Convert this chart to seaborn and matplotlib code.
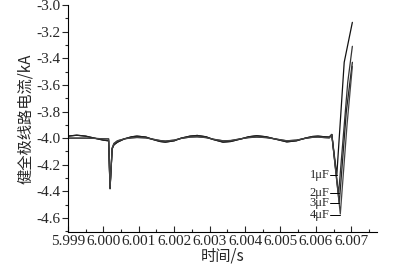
import numpy as np
import pandas as pd
import matplotlib
matplotlib.use("Agg")
import matplotlib.pyplot as plt
from matplotlib.ticker import MultipleLocator, FormatStrFormatter
import seaborn as sns

# shared oscillating part (time in s, current in kA)
t_common = [5.99900, 5.99925, 5.99950, 5.99975, 6.00000, 6.00015, 6.00019, 6.00025,
            6.00030, 6.00040, 6.00060, 6.00080, 6.00095, 6.00120, 6.00140, 6.00160,
            6.00175, 6.00200, 6.00220, 6.00245, 6.00265, 6.00290, 6.00310, 6.00338,
            6.00360, 6.00390, 6.00410, 6.00433, 6.00460, 6.00490, 6.00518, 6.00545,
            6.00570, 6.00590, 6.00606, 6.00625, 6.00638, 6.00645]
i_upper = [-3.985, -3.978, -3.985, -4.000, -4.015, -4.020, -4.380, -4.080,
           -4.050, -4.030, -4.005, -3.990, -3.985, -3.992, -4.010, -4.025,
           -4.030, -4.020, -4.000, -3.985, -3.980, -3.990, -4.010, -4.030,
           -4.025, -4.005, -3.990, -3.982, -3.990, -4.010, -4.028, -4.020,
           -4.000, -3.988, -3.985, -3.990, -3.992, -3.972]
i_lower = [-4.000, -4.000, -4.000, -4.002, -4.005, -4.006, -4.370, -4.075,
           -4.040, -4.020, -4.005, -3.998, -3.995, -3.998, -4.008, -4.018,
           -4.022, -4.015, -4.002, -3.992, -3.990, -3.996, -4.008, -4.020,
           -4.018, -4.004, -3.996, -3.992, -3.996, -4.008, -4.020, -4.015,
           -4.002, -3.994, -3.992, -3.996, -3.998, -3.975]

# fault segments after the shared part, one per capacitance
caps = ["1\u03bcF", "2\u03bcF", "3\u03bcF", "4\u03bcF"]
t_end = {
    "1\u03bcF": [6.00659, 6.00680, 6.00703],
    "2\u03bcF": [6.00664, 6.00690, 6.00703],
    "3\u03bcF": [6.00666, 6.00686, 6.00703],
    "4\u03bcF": [6.00669, 6.00688, 6.00703],
}
i_end = {
    "1\u03bcF": [-4.28, -3.43, -3.13],
    "2\u03bcF": [-4.42, -3.58, -3.31],
    "3\u03bcF": [-4.49, -3.80, -3.43],
    "4\u03bcF": [-4.57, -3.90, -3.46],
}
base_of = {"1\u03bcF": i_upper, "2\u03bcF": i_lower, "3\u03bcF": i_upper, "4\u03bcF": i_lower}

rows = []
for c in caps:
    for t, v in zip(t_common, base_of[c]):
        rows.append((c, t, v))
    for t, v in zip(t_end[c], i_end[c]):
        rows.append((c, t, v))
df = pd.DataFrame(rows, columns=["cap", "t", "i"])

sns.set_style("ticks")
plt.rcParams["font.family"] = ["Liberation Serif", "Noto Sans CJK SC"]
plt.rcParams["axes.unicode_minus"] = True

fig = plt.figure(figsize=(3.97, 2.66), dpi=100)
ax = fig.add_axes([0.171, 0.128, 0.779, 0.853])

palette = {"1\u03bcF": "#111111", "2\u03bcF": "#333333", "3\u03bcF": "#222222", "4\u03bcF": "#444444"}
sns.lineplot(data=df, x="t", y="i", hue="cap", palette=palette, legend=False,
             sort=False, estimator=None, linewidth=0.9, ax=ax)

ax.set_xlim(5.999, 6.00773)
ax.set_ylim(-4.705, -3.0)
ax.xaxis.set_major_locator(MultipleLocator(0.001))
ax.xaxis.set_minor_locator(MultipleLocator(0.0005))
ax.xaxis.set_major_formatter(FormatStrFormatter("%.3f"))
ax.yaxis.set_major_locator(MultipleLocator(0.2))
ax.yaxis.set_minor_locator(MultipleLocator(0.1))
ax.yaxis.set_major_formatter(FormatStrFormatter("%.1f"))
ax.tick_params(axis="x", which="major", direction="in", length=4, width=0.8, labelsize=11, pad=2)
ax.tick_params(axis="x", which="minor", direction="in", length=2, width=0.8)
ax.tick_params(axis="y", which="major", direction="out", length=4, width=0.8, labelsize=11, pad=1)
ax.tick_params(axis="y", which="minor", direction="out", length=2, width=0.8)
for s in ["top", "right"]:
    ax.spines[s].set_visible(False)
for s in ["left", "bottom"]:
    ax.spines[s].set_linewidth(0.8)
    ax.spines[s].set_color("black")

ax.set_xlabel("时间/s", fontsize=11, family=["Noto Sans CJK SC", "Liberation Serif"], labelpad=0)
ax.set_ylabel("健全极线路电流/kA", fontsize=11, family=["Noto Sans CJK SC", "Liberation Serif"], labelpad=2)

# capacitance labels with leader lines
label_y = {"1\u03bcF": -4.28, "2\u03bcF": -4.41, "3\u03bcF": -4.49, "4\u03bcF": -4.575}
for c in caps:
    ly = label_y[c]
    tx = 6.00640
    ax.plot([tx, t_end[c][0]], [ly, ly], color="black", lw=0.7)
    ax.text(tx - 0.00002, ly, c, ha="right", va="center", fontsize=9)

fig.savefig("out.png", dpi=100)
